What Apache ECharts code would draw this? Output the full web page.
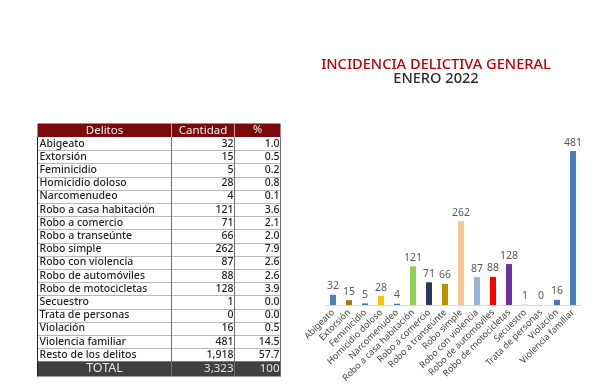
<!DOCTYPE html>
<html><head><meta charset="utf-8">
<script src="https://cdn.jsdelivr.net/npm/echarts@6/dist/echarts.min.js"></script>
<style>html,body{margin:0;padding:0;background:#fff}#c{width:614px;height:391px}</style>
</head><body><div id="c"></div>
<script>
const categories = ['Abigeato','Extorsión','Feminicidio','Homicidio doloso','Narcomenudeo','Robo a casa habitación','Robo a comercio','Robo a transeúnte','Robo simple','Robo con violencia','Robo de automóviles','Robo de motocicletas','Secuestro','Trata de personas','Violación','Violencia familiar'];
const values = [32,15,5,28,4,121,71,66,262,87,88,128,1,0,16,481];
const percents = ['1.0','0.5','0.2','0.8','0.1','3.6','2.1','2.0','7.9','2.6','2.6','3.9','0.0','0.0','0.5','14.5'];
const barColors = ['#4f81bd','#a6790f','#4472c4','#ffc000','#4472c4','#92d050','#243b5e','#bf8f00','#fac494','#95b3d7','#ff0000','#7030a0','#bfbfbf','#f4b183','#4472c4','#4a7ebb'];
const restLabel = 'Resto de los delitos', restValue = '1,918', restPct = '57.7';
const totalLabel = 'TOTAL', totalValue = '3,323', totalPct = '100';
const headers = ['Delitos','Cantidad','%'];
const titleText = 'INCIDENCIA DELICTIVA GENERAL';
const subtitleText = 'ENERO 2022';

const FONT = 'Noto Sans';
const fmt = n => n.toLocaleString('en-US');

// table layout
const X0 = 37.5, X1 = 171.5, X2 = 234.5, X3 = 280.5;
const HT = 123.5, HB = 137, RH = 13.2;
const g = [];
g.push({type:'rect', shape:{x:X0,y:HT,width:X3-X0,height:HB-HT}, style:{fill:'#7b0a0a'}});
[X1, X2].forEach(x=>g.push({type:'line', shape:{x1:x,y1:HT,x2:x,y2:HB}, style:{stroke:'#c9a0a0', lineWidth:1}}));
g.push({type:'text', style:{x:(X0+X1)/2, y:(HT+HB)/2, text:headers[0], fill:'#f2f2f2', font:'11.5px "'+FONT+'"', align:'center', verticalAlign:'middle'}});
g.push({type:'text', style:{x:(X1+X2)/2, y:(HT+HB)/2, text:headers[1], fill:'#f2f2f2', font:'11.5px "'+FONT+'"', align:'center', verticalAlign:'middle'}});
g.push({type:'text', style:{x:(X2+X3)/2, y:(HT+HB)/2, text:headers[2], fill:'#f2f2f2', font:'11px "'+FONT+'"', align:'center', verticalAlign:'middle'}});
const rows = categories.map((c,i)=>[c, fmt(values[i]), percents[i]]);
rows.push([restLabel, restValue, restPct]);
rows.forEach((r,i)=>{
  const y0 = HB + i*RH, yc = y0 + RH/2;
  g.push({type:'text', style:{x:X0+2, y:yc, text:r[0], fill:'#1f1f1f', font:'500 10.5px "'+FONT+'"', align:'left', verticalAlign:'middle'}});
  g.push({type:'text', style:{x:X2-1, y:yc, text:r[1], fill:'#1f1f1f', font:'500 10.5px "'+FONT+'"', align:'right', verticalAlign:'middle'}});
  g.push({type:'text', style:{x:X3-1, y:yc, text:r[2], fill:'#1f1f1f', font:'500 10.5px "'+FONT+'"', align:'right', verticalAlign:'middle'}});
  g.push({type:'line', shape:{x1:X0,y1:Math.round(y0+RH)+0.5,x2:X3,y2:Math.round(y0+RH)+0.5}, style:{stroke:'#b8b8b8', lineWidth:1}});
});
const TT = HB + rows.length*RH, TB = TT + 15;
g.push({type:'rect', shape:{x:X0,y:TT,width:X3-X0,height:TB-TT}, style:{fill:'#404040'}});
g.push({type:'text', style:{x:(X0+X1)/2, y:(TT+TB)/2, text:totalLabel, fill:'#e6e6e6', font:'12.5px "'+FONT+'"', align:'center', verticalAlign:'middle'}});
g.push({type:'text', style:{x:X2-1, y:(TT+TB)/2, text:totalValue, fill:'#e6e6e6', font:'11.5px "'+FONT+'"', align:'right', verticalAlign:'middle'}});
g.push({type:'text', style:{x:X3-1, y:(TT+TB)/2, text:totalPct, fill:'#e6e6e6', font:'11.5px "'+FONT+'"', align:'right', verticalAlign:'middle'}});
[X0, X1, X2, X3].forEach((x,i)=>{
  g.push({type:'line', shape:{x1:x,y1:HB,x2:x,y2:TB}, style:{stroke: i===0?'#222':'#6f6f6f', lineWidth:1}});
});

const chart = echarts.init(document.getElementById('c'), null, {renderer:'canvas'});
chart.setOption({
  animation:false,
  title:[
    {text:titleText, left:431, top:52, textAlign:'center', textStyle:{color:'#c00000', fontSize:14.6, fontWeight:500, fontFamily:FONT}},
    {text:subtitleText, left:431, top:66.5, textAlign:'center', textStyle:{color:'#2b2b2b', fontSize:14.6, fontWeight:500, fontFamily:FONT}}
  ],
  grid:{left:325, top:145, width:256, height:160},
  xAxis:{type:'category', data:categories,
    axisLine:{lineStyle:{color:'#d9d9d9'}}, axisTick:{show:false},
    axisLabel:{rotate:45, interval:0, fontSize:9, color:'#404040', fontFamily:FONT, margin:6}},
  yAxis:{type:'value', min:0, max:500, show:false, splitLine:{show:false}},
  series:[{type:'bar', data:values.map((v,i)=>({value:v, itemStyle:{color:barColors[i]}})),
    barWidth:6,
    label:{show:true, position:'top', distance:3, fontSize:10.5, color:'#595959', fontFamily:FONT}}],
  graphic:g
});
</script></body></html>
